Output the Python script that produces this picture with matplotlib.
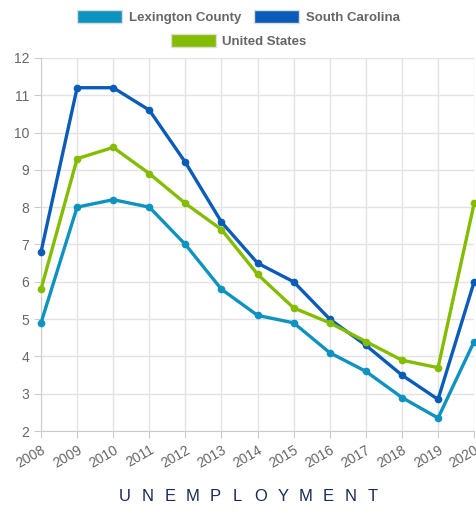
import numpy as np
import matplotlib
matplotlib.use("Agg")
import matplotlib.pyplot as plt
from matplotlib.patches import Patch

plt.rcParams['font.family'] = ['Liberation Sans', 'DejaVu Sans']

years = [2008, 2009, 2010, 2011, 2012, 2013, 2014, 2015, 2016, 2017, 2018, 2019, 2020]
lexington = [4.9, 8.0, 8.2, 8.0, 7.0, 5.8, 5.1, 4.9, 4.1, 3.6, 2.9, 2.35, 4.4]
south_carolina = [6.8, 11.2, 11.2, 10.6, 9.2, 7.6, 6.5, 6.0, 5.0, 4.3, 3.5, 2.85, 6.0]
united_states = [5.8, 9.3, 9.6, 8.9, 8.1, 7.4, 6.2, 5.3, 4.9, 4.4, 3.9, 3.7, 8.1]

names = ['Lexington County', 'South Carolina', 'United States']
colors = ['#0e93c0', '#0a5cb8', '#84bc00']
title = 'UNEMPLOYMENT'

fig = plt.figure(figsize=(4.77, 5.12), dpi=100)
ax = fig.add_axes([0.086, 0.158, 0.908, 0.729])

for vals, c in zip([lexington, south_carolina, united_states], colors):
    ax.plot(years, vals, color=c, lw=2.4, marker='o', ms=4.5, clip_on=False, zorder=3)

ax.set_xlim(2008, 2020)
ax.set_ylim(2, 12)
ax.set_xticks(years)
ax.set_yticks(range(2, 13))
ax.grid(True, color='#e3e3e3', lw=1)
ax.set_axisbelow(True)
for s in ['top', 'right']:
    ax.spines[s].set_visible(False)
for s in ['left', 'bottom']:
    ax.spines[s].set_color('#cccccc')
ax.tick_params(colors='#cccccc', labelcolor='#666666', labelsize=10, length=5)
plt.setp(ax.get_xticklabels(), rotation=30, ha='right', rotation_mode='anchor')

h = [Patch(facecolor=c, edgecolor='#dddddd') for c in colors]
kw = dict(frameon=False, fontsize=10, handlelength=3.4, handleheight=1.1,
          handletextpad=0.5, labelcolor='#666666', prop={'weight': 'bold', 'size': 9.5})
kw.pop('fontsize')
fig.legend(h[:2], names[:2], loc='center', bbox_to_anchor=(0.5, 0.966), ncol=2,
           columnspacing=1.0, **kw)
fig.legend(h[2:], names[2:], loc='center', bbox_to_anchor=(0.5, 0.92), **kw)

# spaced-out title letters
x0, x1 = 125 / 477, 373 / 477
for i, ch in enumerate(title):
    fig.text(x0 + (x1 - x0) * i / (len(title) - 1), 0.016, ch, ha='center', va='bottom',
             fontsize=12, color='#1b2a55')

fig.savefig('out.png', dpi=100)
